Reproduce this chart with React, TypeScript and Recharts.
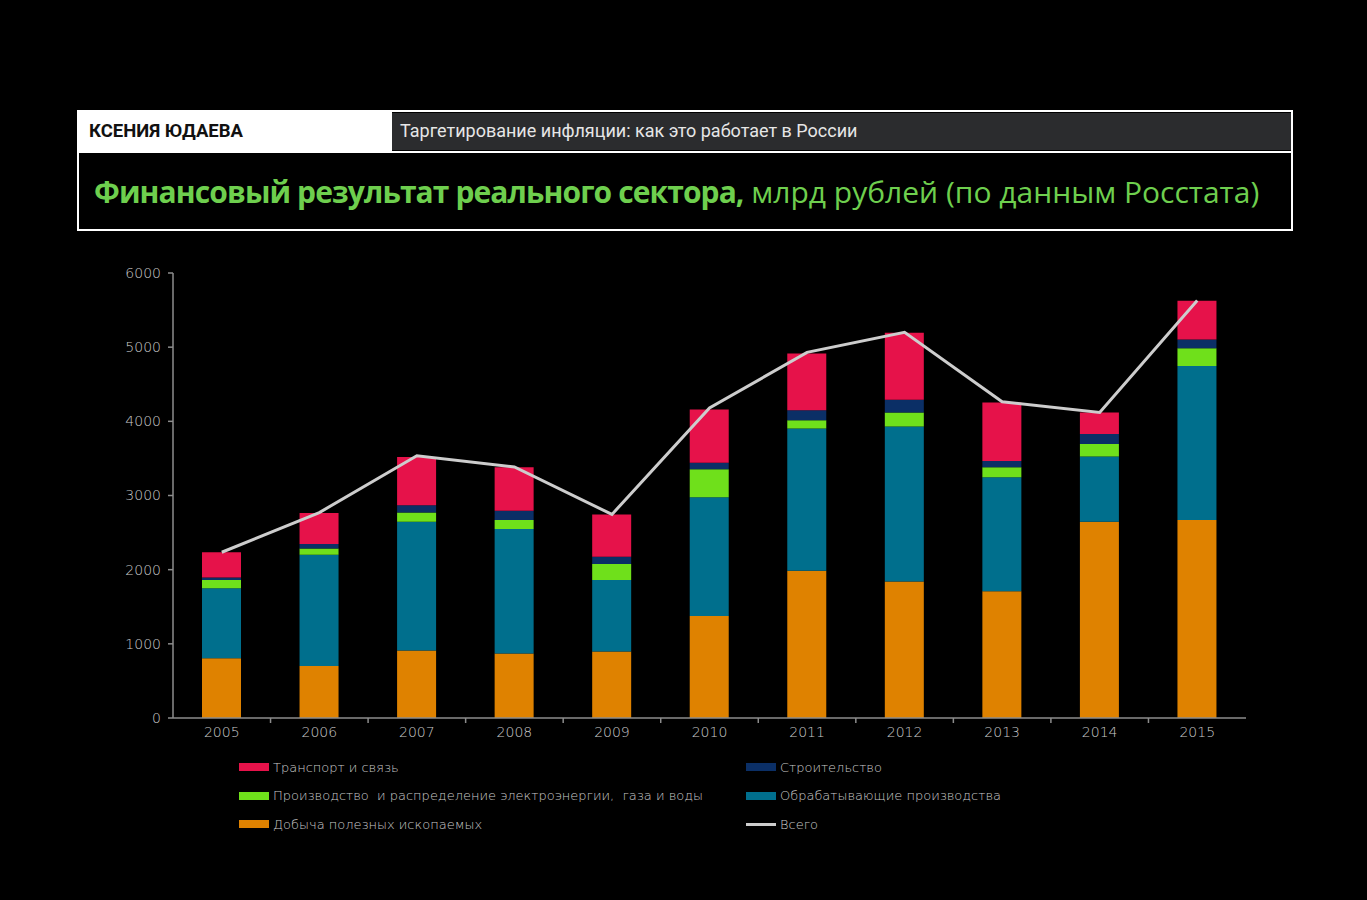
import React from "react";
import { ComposedChart, Bar, Line, XAxis, YAxis } from "recharts";

// years on the x axis
const years = ["2005", "2006", "2007", "2008", "2009", "2010", "2011", "2012", "2013", "2014", "2015"];

// stacked segments, bottom to top (bn rubles)
const mining = [805, 700, 910, 870, 895, 1375, 1985, 1840, 1710, 2645, 2670];
const manufacturing = [945, 1500, 1735, 1680, 965, 1600, 1920, 2090, 1535, 880, 2075];
const utilities = [110, 85, 125, 120, 215, 380, 110, 190, 135, 170, 240];
const construction = [35, 60, 100, 125, 100, 85, 135, 170, 85, 135, 120];
const transport = [340, 420, 650, 585, 570, 720, 765, 905, 790, 290, 520];

// total line
const total = [2235, 2770, 3535, 3385, 2745, 4180, 4930, 5200, 4265, 4120, 5630];

const yTicks = [0, 1000, 2000, 3000, 4000, 5000, 6000];

const data = years.map((year, i) => ({
  year,
  mining: mining[i],
  manufacturing: manufacturing[i],
  utilities: utilities[i],
  construction: construction[i],
  transport: transport[i],
  total: total[i],
}));

const COLORS = {
  mining: "#df8200",
  manufacturing: "#006f8d",
  utilities: "#6fe01b",
  construction: "#0b2f66",
  transport: "#e6124a",
  total: "#cdcdcd",
};

const AXIS = "#8c8c8c";
const TICK_FONT = "'DejaVu Sans', sans-serif";

// legend in two columns, same order as the slide
const legendLeft = [
  { label: "Транспорт и связь", color: COLORS.transport, line: false },
  { label: "Производство  и распределение электроэнергии,  газа и воды", color: COLORS.utilities, line: false },
  { label: "Добыча полезных ископаемых", color: COLORS.mining, line: false },
];
const legendRight = [
  { label: "Строительство", color: COLORS.construction, line: false },
  { label: "Обрабатывающие производства", color: COLORS.manufacturing, line: false },
  { label: "Всего", color: COLORS.total, line: true },
];

// x tick: label at the centre, tick mark at the band boundary
const YearTick = (props: any) => {
  const { x, y, payload, index } = props;
  const off = payload?.offset ?? 0;
  const axisY = y - 9;
  return (
    <g>
      {index > 0 && (
        <line x1={x - off} x2={x - off} y1={axisY} y2={axisY + 5} stroke={AXIS} strokeWidth={1.5} />
      )}
      <text
        x={x}
        y={y}
        dy="0.71em"
        textAnchor="middle"
        fill="#c9c9c9"
        fontSize={14}
        fontFamily={TICK_FONT}
        fontWeight={200}
      >
        {payload.value}
      </text>
    </g>
  );
};

const LegendItem = ({ label, color, line }: { label: string; color: string; line: boolean }) => (
  <div style={{ display: "flex", alignItems: "center", height: 28.5 }}>
    <span
      style={{
        display: "inline-block",
        width: 30,
        height: line ? 3 : 8,
        background: color,
        marginRight: 4,
      }}
    />
    <span style={{ color: "#c9c9c9", fontSize: 13, fontFamily: TICK_FONT, fontWeight: 200, whiteSpace: "pre" }}>
      {label}
    </span>
  </div>
);

const App: React.FC = () => {
  return (
    <div
      style={{
        position: "absolute",
        left: 0,
        top: 0,
        width: 1367,
        height: 900,
        background: "#000",
        overflow: "hidden",
      }}
    >
      {/* header box */}
      <div
        style={{
          position: "absolute",
          left: 77,
          top: 110,
          width: 1212,
          height: 117,
          border: "2px solid #fff",
          background: "#000",
        }}
      >
        <div style={{ position: "absolute", left: 0, top: 0, width: 313, height: 40, background: "#fff" }}>
          <span
            style={{
              position: "absolute",
              left: 10,
              top: 8,
              fontFamily: "Roboto, sans-serif",
              fontWeight: 700,
              fontSize: 18.5,
              color: "#111",
            }}
          >
            КСЕНИЯ ЮДАЕВА
          </span>
        </div>
        <div
          style={{
            position: "absolute",
            left: 313,
            top: 1,
            width: 899,
            height: 37,
            background: "#2b2c2e",
          }}
        >
          <span
            style={{
              position: "absolute",
              left: 8,
              top: 7,
              fontFamily: "Roboto, sans-serif",
              fontSize: 18,
              color: "#e6e6e6",
            }}
          >
            Таргетирование инфляции: как это работает в России
          </span>
        </div>
        <div style={{ position: "absolute", left: 0, top: 39, width: 1212, height: 2, background: "#fff" }} />
        <div
          style={{
            position: "absolute",
            left: 15,
            top: 60,
            fontFamily: "'Open Sans', sans-serif",
            fontSize: 30,
            color: "#6ecf4e",
            whiteSpace: "nowrap",
            lineHeight: "40px",
          }}
        >
          <span style={{ fontWeight: 700, letterSpacing: -0.9 }}>Финансовый результат реального сектора,</span>
          <span style={{ fontWeight: 400 }}> млрд рублей (по данным Росстата)</span>
        </div>
      </div>

      {/* chart */}
      <div style={{ position: "absolute", left: 0, top: 0 }}>
        <ComposedChart
          width={1367}
          height={900}
          data={data}
          margin={{ top: 273, right: 121, left: 113, bottom: 152 }}
        >
          <XAxis
            dataKey="year"
            height={30}
            axisLine={{ stroke: AXIS, strokeWidth: 1.5 }}
            tickLine={false}
            tickSize={5}
            tickMargin={4}
            tick={<YearTick />}
            interval={0}
          />
          <YAxis
            width={60}
            domain={[0, 6000]}
            ticks={yTicks}
            interval={0}
            axisLine={{ stroke: AXIS, strokeWidth: 1.5 }}
            tickLine={{ stroke: AXIS, strokeWidth: 1.5 }}
            tickSize={5}
            tickMargin={7}
            tick={{ fill: "#c9c9c9", fontSize: 14, fontFamily: TICK_FONT, fontWeight: 200 }}
          />
          <Bar dataKey="mining" stackId="a" fill={COLORS.mining} barSize={39} isAnimationActive={false} />
          <Bar dataKey="manufacturing" stackId="a" fill={COLORS.manufacturing} barSize={39} isAnimationActive={false} />
          <Bar dataKey="utilities" stackId="a" fill={COLORS.utilities} barSize={39} isAnimationActive={false} />
          <Bar dataKey="construction" stackId="a" fill={COLORS.construction} barSize={39} isAnimationActive={false} />
          <Bar dataKey="transport" stackId="a" fill={COLORS.transport} barSize={39} isAnimationActive={false} />
          <Line
            dataKey="total"
            type="linear"
            stroke={COLORS.total}
            strokeWidth={3}
            dot={false}
            isAnimationActive={false}
          />
        </ComposedChart>
      </div>

      {/* legend */}
      <div style={{ position: "absolute", left: 239, top: 753 }}>
        {legendLeft.map((it) => (
          <LegendItem key={it.label} {...it} />
        ))}
      </div>
      <div style={{ position: "absolute", left: 746, top: 753 }}>
        {legendRight.map((it) => (
          <LegendItem key={it.label} {...it} />
        ))}
      </div>
    </div>
  );
};

export default App;
